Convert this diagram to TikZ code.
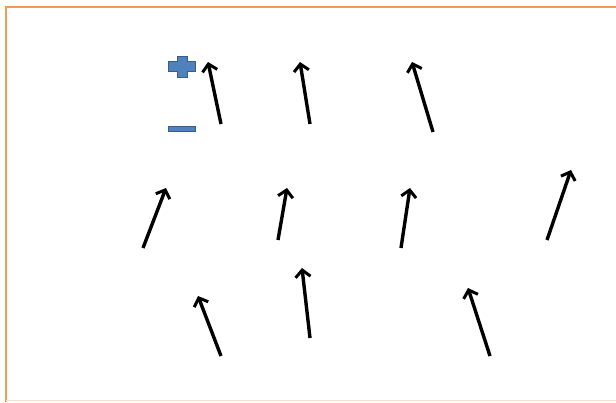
\documentclass[tikz,border=0pt]{standalone}
\usetikzlibrary{arrows.meta}
\definecolor{frameor}{HTML}{F29A50}
\definecolor{signblue}{HTML}{4F81BD}
\definecolor{signedge}{HTML}{385D8A}
\begin{document}
\begin{tikzpicture}[x=1pt,y=-1pt,
  fieldarrow/.style={line width=3.4pt,-{Straight Barb[length=7pt,width=15pt,line width=3pt]}},
  signshape/.style={fill=signblue,draw=signedge,line width=1pt}]
\useasboundingbox (0,0) rectangle (616,402);
\fill[white] (0,0) rectangle (616,402);
\draw[frameor,line width=2.6pt] (6,402) -- (6,7) -- (616,7);
\draw[frameor!30,line width=1pt] (6,400) -- (616,400);
% plus sign
\draw[signshape] (177,56) -- (187,56) -- (187,61) -- (195,61) -- (195,71) -- (187,71) -- (187,77) -- (177,77) -- (177,71) -- (168,71) -- (168,61) -- (177,61) -- cycle;
% minus sign
\draw[signshape] (168,126) rectangle (195,131.5);
% arrows
\foreach \n/\tx/\ty/\hx/\hy in {a/221/124/208/62, b/310/124/300/62, c/433/132/412/62,
  d/143/248/166/188, e/278/240/287/188, f/401/248/410/188, g/547/240/571/170,
  h/221/356/198/296, i/310/338/302/268, j/490/356/468/288}{
  \coordinate (\n t) at (\tx,\ty);
  \coordinate (\n h) at (\hx,\hy);
  \draw[fieldarrow] (\n t) -- (\n h);
}
\end{tikzpicture}
\end{document}
